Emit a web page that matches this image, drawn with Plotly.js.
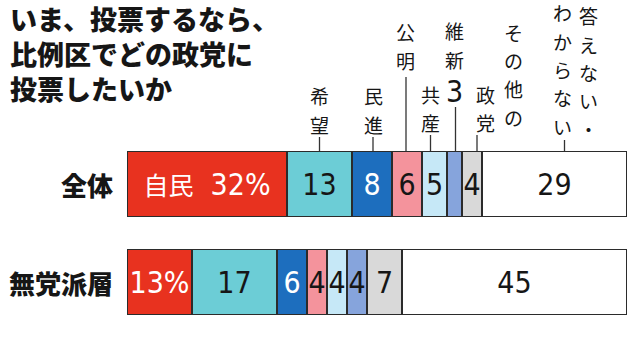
<!DOCTYPE html>
<html><head><meta charset="utf-8">
<script src="https://cdn.plot.ly/plotly-3.0.1.min.js"></script>
<style>html,body{margin:0;padding:0;background:#fff;}#chart{width:640px;height:352px;}</style>
</head><body><div id="chart"></div>
<script>
// ---- data ----
const groups = ['全体', '無党派層'];
const parties = ['自民', '希望', '民進', '公明', '共産', '維新', 'その他の政党', '答えない・わからない'];
const valuesAll = [32, 13, 8, 6, 5, 3, 4, 29];
const valuesIndependent = [13, 17, 6, 4, 4, 4, 7, 45];
const titleText = 'いま、投票するなら、<br>比例区でどの政党に<br>投票したいか';

// ---- font availability (pick a condensed face for numerals if one is installed) ----
function hasFont(name) {
  const c = document.createElement('canvas').getContext('2d');
  const s = 'abcdefghijklmnopqrstuvwxyz0123456789%';
  const out = [];
  ['monospace', 'serif'].forEach(base => {
    c.font = '30px ' + base; const a = c.measureText(s).width;
    c.font = '30px "' + name + '", ' + base; const b = c.measureText(s).width;
    out.push(a !== b);
  });
  return out[0] || out[1];
}
const narrowCandidates = ['Liberation Sans Narrow', 'Arial Narrow', 'DejaVu Sans Condensed', 'Roboto Condensed', 'Open Sans Condensed'];
const narrow = narrowCandidates.find(hasFont);
const NUM_FONT = narrow ? '"' + narrow + '", "Liberation Sans", sans-serif' : '"Liberation Sans", Arial, sans-serif';
const NUM_SIZE = narrow ? 30 : 28;

// ---- styles ----
const partyColors = ['#e8321f', '#6ccdd6', '#1d6ebe', '#f4939c', '#c6e8f7', '#86a4dc', '#d9d9d9', '#ffffff'];
const textColors = ['#ffffff', '#161616', '#ffffff', '#161616', '#161616', '#161616', '#161616', '#161616'];
const JP_FONT = '"Noto Sans CJK JP", "Noto Sans", sans-serif';
const LABEL_SIZE = 19;
const GLYPH_STEP = 28.3;
const M = {l: 127, r: 13, t: 135, b: 21};
const H = 352;
const plotH = H - M.t - M.b;
const yp = py => (H - M.b - py) / plotH;   // page pixel -> paper y
const BAR_TOP = 151;

// leader label placement (pixels): line offset, column offsets and last glyph centre
const labelLayout = [
  null,
  {dx: 0,  lineTop: 137, split: [], cols: [{dx: 0, yEnd: 124}]},
  {dx: 1,  lineTop: 137, split: [], cols: [{dx: 0, yEnd: 124}]},
  {dx: -1, lineTop: 77,  split: [], cols: [{dx: -1, yEnd: 60}]},
  {dx: -4, lineTop: 135, split: [], cols: [{dx: 0, yEnd: 123}]},
  {dx: 1,  lineTop: 107, split: [], cols: [{dx: -1, yEnd: 59}], numY: 92},
  {dx: 5,  lineTop: 135, split: [4], cols: [{dx: 36, yEnd: 117}, {dx: 8, yEnd: 123}]},
  {dx: 10, lineTop: 140, split: [5], cols: [{dx: 24, yEnd: 129}, {dx: -2, yEnd: 126}]}
];

const rows = [valuesAll, valuesIndependent];

function segText(rowIdx, i, v) {
  if (v < 4) return '';
  if (i === 0) {
    return (rowIdx === 0 ? '<span style="font-size:25px;font-family:Noto Sans CJK JP">' + parties[0] + '</span>\u00a0\u00a0' : '') + v + '%';
  }
  return String(v);
}

const traces = parties.map((p, i) => ({
  type: 'bar',
  orientation: 'h',
  name: p,
  y: groups,
  x: rows.map(r => r[i]),
  text: rows.map((r, ri) => segText(ri, i, r[i])),
  textposition: 'inside',
  insidetextanchor: 'middle',
  textangle: 0,
  constraintext: 'none',
  cliponaxis: false,
  textfont: {family: NUM_FONT, size: NUM_SIZE, color: textColors[i]},
  marker: {color: partyColors[i], line: {color: '#2b2b2b', width: 1.6}},
  hoverinfo: 'skip',
  showlegend: false
}));

// leader lines + vertical (stacked) labels for the 全体 row
const shapes = [];
const annotations = [];
let cum = 0;
valuesAll.forEach((v, i) => {
  const mid = cum + v / 2;
  cum += v;
  const L = labelLayout[i];
  if (!L) return;
  shapes.push({
    type: 'line', xref: 'x', xsizemode: 'pixel', xanchor: mid, x0: L.dx, x1: L.dx,
    yref: 'paper', y0: yp(L.lineTop), y1: yp(BAR_TOP),
    line: {color: '#333333', width: 1.3}
  });
  const chars = Array.from(parties[i]);
  const colTexts = [];
  let start = 0;
  L.split.concat([chars.length]).forEach(end => { colTexts.push(chars.slice(start, end)); start = end; });
  colTexts.forEach((col, ci) => {
    const c = L.cols[ci];
    const y0 = c.yEnd - (col.length - 1) * GLYPH_STEP;
    col.forEach((ch, k) => {
      annotations.push({
        xref: 'x', x: mid, xshift: L.dx + c.dx, yref: 'paper', y: yp(y0 + k * GLYPH_STEP),
        text: ch, showarrow: false, xanchor: 'center', yanchor: 'middle', borderpad: 0,
        font: {family: JP_FONT, size: LABEL_SIZE, color: '#161616'}
      });
    });
  });
  if (L.numY !== undefined) {
    annotations.push({
      xref: 'x', x: mid, xshift: L.dx + L.cols[0].dx, yref: 'paper', y: yp(L.numY),
      text: String(v), showarrow: false, xanchor: 'center', yanchor: 'middle', borderpad: 0,
      font: {family: NUM_FONT, size: NUM_SIZE, color: '#161616'}
    });
  }
});

// row labels
groups.forEach((g, gi) => {
  annotations.push({
    xref: 'paper', x: (115 - M.l) / (640 - M.l - M.r), xanchor: 'right',
    yref: 'y', y: groups.length - 1 - gi, yanchor: 'middle',
    text: g, showarrow: false,
    font: {family: JP_FONT, size: 26, weight: 900, color: '#161616'}
  });
});

const layout = {
  width: 640, height: H,
  margin: M,
  paper_bgcolor: '#ffffff', plot_bgcolor: '#ffffff',
  title: {
    text: titleText, xref: 'container', yref: 'container',
    x: 10 / 640, xanchor: 'left', y: 1 - 30 / H, yanchor: 'top',
    font: {family: JP_FONT, size: 27, weight: 900, color: '#161616'}
  },
  barmode: 'stack',
  bargap: 0.337,
  xaxis: {range: [0, 100], visible: false, fixedrange: true},
  yaxis: {type: 'category', categoryorder: 'array', categoryarray: groups.slice().reverse(),
          range: [-0.5, 1.5], visible: false, fixedrange: true},
  shapes: shapes,
  annotations: annotations
};

Plotly.newPlot('chart', traces, layout, {displayModeBar: false, staticPlot: true});
</script>
</body></html>
